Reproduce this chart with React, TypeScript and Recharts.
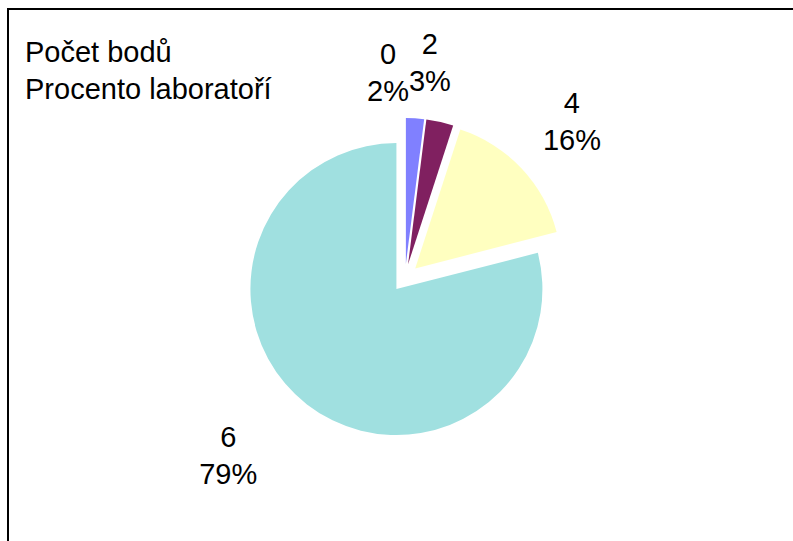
import { PieChart, Pie, Cell } from 'recharts';

// values
const categories = ['0', '2', '4', '6'];
const percents = [2, 3, 16, 79];
const headerLines = ['Počet bodů', 'Procento laboratoří'];

const COLORS = ['#8080FF', '#802060', '#FFFFC0', '#A0E0E0'];
const W = 793;
const H = 541;
const CX = 405;
const CY = 278;
const R = 146;
const EXPLODE = 14;
const FONT = '"Liberation Sans", Arial, sans-serif';
const FONT_SIZE = 29;
// label placement tweaks (degrees clockwise, radius px), like Excel's fitted labels
const LABEL_NUDGE = [-8.3, -6, 0, 7.2];
const LABEL_RADIUS = [207, 217, 229, 250];

const data = categories.map((name, i) => ({ name, value: percents[i] }));
const total = percents.reduce((a, b) => a + b, 0);

// mid angle of each slice, degrees clockwise from 12 o'clock
const midAngles = percents.map((_, i) => {
    const before = percents.slice(0, i).reduce((a, b) => a + b, 0);
    return ((before + percents[i] / 2) / total) * 360;
});

const rad = (d: number) => (d * Math.PI) / 180;

function SliceLabel({ index }: { index: number }) {
    const a = rad(midAngles[index] + LABEL_NUDGE[index]);
    const x = CX + LABEL_RADIUS[index] * Math.sin(a);
    const y = CY - LABEL_RADIUS[index] * Math.cos(a);
    return (
        <text x={x} textAnchor="middle" fontFamily={FONT} fontSize={FONT_SIZE} fill="#000">
            <tspan x={x} y={y - 8}>{categories[index]}</tspan>
            <tspan x={x} y={y + 29}>{`${percents[index]}%`}</tspan>
        </text>
    );
}

export default function App() {
    return (
        <div
            style={{
                position: 'fixed',
                left: 0,
                top: 0,
                width: W,
                height: H,
                overflow: 'hidden',
                background: '#fff',
            }}
        >
            {/* chart area frame, runs off the right and bottom edges */}
            <div
                style={{
                    position: 'absolute',
                    left: 7,
                    top: 8,
                    width: 820,
                    height: 580,
                    border: '2px solid #000',
                    boxSizing: 'border-box',
                }}
            />
            <div style={{ position: 'absolute', left: 0, top: 0 }}>
                <PieChart width={W} height={H} margin={{ top: 0, right: 0, bottom: 0, left: 0 }}>
                    {data.map((_, focus) => {
                        const a = rad(midAngles[focus]);
                        return (
                            <Pie
                                key={focus}
                                data={data}
                                dataKey="value"
                                nameKey="name"
                                cx={CX + EXPLODE * Math.sin(a)}
                                cy={CY - EXPLODE * Math.cos(a)}
                                outerRadius={R}
                                startAngle={90}
                                endAngle={-270}
                                stroke="none"
                                labelLine={false}
                                label={(p: any) =>
                                    p.index === focus ? <SliceLabel index={p.index} /> : null
                                }
                                isAnimationActive={false}
                            >
                                {data.map((d, i) => (
                                    <Cell
                                        key={d.name}
                                        fill={i === focus ? COLORS[i] : 'none'}
                                        stroke="none"
                                    />
                                ))}
                            </Pie>
                        );
                    })}
                </PieChart>
            </div>
            <svg
                width={W}
                height={H}
                style={{ position: 'absolute', left: 0, top: 0, pointerEvents: 'none' }}
            >
                {headerLines.map((t, i) => (
                    <text key={t} x={25} y={62 + i * 37} fontFamily={FONT} fontSize={FONT_SIZE} fill="#000">
                        {t}
                    </text>
                ))}
            </svg>
        </div>
    );
}
